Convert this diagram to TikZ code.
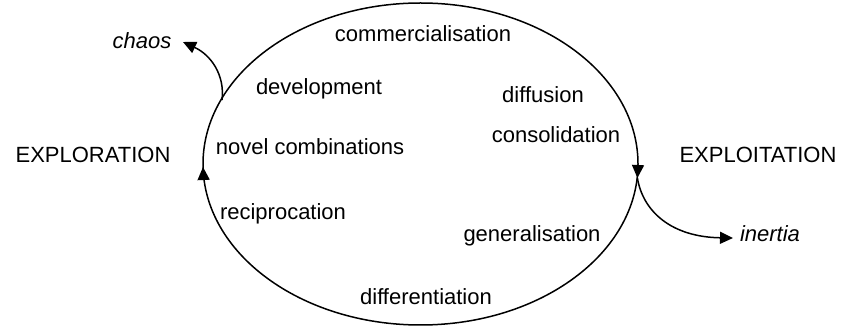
\documentclass[tikz,border=0pt]{standalone}
\usepackage{fontspec}
\setmainfont{Liberation Sans}
\usetikzlibrary{arrows.meta}
\begin{document}
\begin{tikzpicture}[x=1pt,y=-1pt,line width=1.5pt,
  lbl/.style={anchor=base,inner sep=0pt,font=\fontsize{22}{26}\selectfont},
  ital/.style={anchor=base,inner sep=0pt,font=\fontsize{22}{26}\selectfont\itshape},
  tip/.style={-{Triangle[length=13pt,width=12pt]}}]
\useasboundingbox (0,0) rectangle (843,328);
% cycle
\draw (420.5,164) ellipse [x radius=217.5, y radius=161];
% coordinates on the cycle
\coordinate (leftA) at (203.6,180);
\coordinate (leftTip) at (203,167);
\coordinate (rightA) at (638,165);
\coordinate (cusp) at (637.4,178);
\coordinate (chaosStart) at (222,100);
\coordinate (chaosTip) at (183,42);
\coordinate (inertiaTip) at (733,238);
% arrowheads on the cycle
\draw[tip] (leftA) -- (leftTip);
\draw[tip] (rightA) -- (cusp);
% labels
\node[lbl] (commercialisation) at (423,42) {commercialisation};
\node[lbl] (development) at (319,95) {development};
\node[lbl] (diffusion) at (543,103) {diffusion};
\node[lbl] (consolidation) at (556,143) {consolidation};
\node[lbl] (novel) at (310,155) {novel combinations};
\node[lbl] (reciprocation) at (283,220) {reciprocation};
\node[lbl] (generalisation) at (532,242) {generalisation};
\node[lbl] (differentiation) at (426,305) {differentiation};
\node[lbl] (exploration) at (93,163) {EXPLORATION};
\node[lbl] (exploitation) at (758,163) {EXPLOITATION};
\node[ital] (chaos) at (142,49) {chaos};
\node[ital] (inertia) at (770,242) {inertia};
% branches
\draw[tip] (chaosStart) .. controls (225,75) and (211,55) .. (chaosTip);
\draw[tip] (cusp) .. controls (643,212) and (672,237) .. (inertiaTip);
\end{tikzpicture}
\end{document}
